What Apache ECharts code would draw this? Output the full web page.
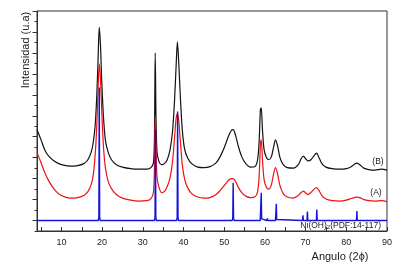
<!DOCTYPE html>
<html>
<head>
<meta charset="utf-8">
<script src="https://cdn.jsdelivr.net/npm/echarts@6/dist/echarts.min.js"></script>
<style>
  html, body { margin: 0; padding: 0; background: #fff; }
  #xrdChart { width: 397px; height: 278px; }
</style>
</head>
<body>
<div id="xrdChart"></div>
<script>
// muestra (B), [2theta, intensidad]
const curveB = [
  [4, 8.67], [5, 7.7], [6, 6.67], [7, 6.1], [8.5, 5.6], [10, 5.33], [12, 5.19], [14, 5.24],
  [15.5, 5.43], [16.5, 5.8], [17.3, 6.5], [17.8, 7.4], [18.3, 9.1], [18.7, 12], [19, 15.3],
  [19.3, 18.45], [19.6, 16.7], [19.9, 13.4], [20.3, 10.1], [20.8, 7.7], [21.5, 6.5], [22.3, 5.8],
  [23.5, 5.33], [25, 5.1], [27, 4.95], [29, 4.9], [31, 4.9], [32, 5.05], [32.6, 5.5], [32.85, 7.7],
  [33.05, 16], [33.25, 9.6], [33.5, 6.5], [34, 5.6], [34.6, 5.33], [35.3, 5.43], [36, 5.8],
  [36.7, 6.76], [37.3, 8.5], [37.8, 11.5], [38.2, 14.9], [38.5, 17.05], [38.8, 15.3], [39.2, 12],
  [39.7, 8.67], [40.3, 6.76], [41, 6], [42, 5.43], [43.5, 5.1], [45, 5.05], [46.5, 5.14], [48, 5.5],
  [49, 6.1], [50, 6.95], [51, 8], [51.7, 8.57], [52.2, 8.67], [52.8, 8.1], [53.5, 7.05], [54.3, 6.1],
  [55.3, 5.43], [56.5, 5.1], [57.5, 5.14], [58.2, 5.8], [58.6, 7.7], [58.9, 10.6], [59.1, 10.76],
  [59.4, 8.67], [59.8, 6.76], [60.4, 6], [61, 5.8], [61.6, 6.1], [62.1, 6.95], [62.6, 7.7],
  [63.1, 7.14], [63.7, 6], [64.5, 5.33], [65.5, 5.05], [67, 5], [68.2, 5.33], [68.9, 5.9],
  [69.5, 6.14], [70, 5.9], [70.6, 5.7], [71.3, 5.8], [72.1, 6.19], [72.7, 6.43], [73.3, 6],
  [74, 5.43], [75, 5.1], [76.5, 4.95], [78.5, 4.9], [80, 4.95], [81.2, 5.14], [82, 5.38],
  [82.6, 5.48], [83.3, 5.33], [84.3, 5], [85.5, 4.86], [87, 4.81], [88.7, 4.9], [90, 4.81]
];

// muestra (A)
const curveA = [
  [4, 6.48], [5, 5.52], [6, 4.48], [7, 3.71], [8.5, 2.86], [10, 2.38], [12, 2.14], [14, 2.19],
  [15.5, 2.38], [16.5, 2.76], [17.3, 3.43], [17.8, 4.29], [18.3, 6.29], [18.7, 9.14], [19, 12.48],
  [19.3, 14.95], [19.6, 13.43], [19.9, 10.57], [20.3, 7.24], [20.8, 5.05], [21.5, 3.71], [22.3, 3.05],
  [23.5, 2.48], [25, 2.14], [27, 1.95], [29, 1.86], [31, 1.9], [32, 2.1], [32.6, 2.67], [32.85, 4.86],
  [33.05, 9.9], [33.25, 6.76], [33.5, 4.1], [34, 3.14], [34.6, 2.67], [35.3, 2.76], [36, 3.24],
  [36.7, 4.1], [37.3, 5.62], [37.8, 7.9], [38.2, 9.8], [38.5, 10.19], [38.8, 9.62], [39.2, 7.71],
  [39.7, 5.33], [40.3, 3.9], [41, 3.14], [42, 2.57], [43.5, 2.24], [45, 2.14], [46.5, 2.19], [48, 2.48],
  [49, 2.86], [50, 3.33], [51, 3.81], [51.7, 4], [52.2, 4], [52.8, 3.71], [53.5, 3.14], [54.3, 2.67],
  [55.3, 2.33], [56.5, 2.19], [57.5, 2.24], [58.2, 2.76], [58.6, 4.38], [58.9, 7.24], [59.1, 7.71],
  [59.4, 5.81], [59.8, 3.9], [60.4, 3.14], [61, 3], [61.6, 3.43], [62.1, 4.38], [62.6, 5.05],
  [63.1, 4.48], [63.7, 3.33], [64.5, 2.57], [65.5, 2.24], [67, 2.14], [68.2, 2.38], [68.9, 2.67],
  [69.5, 2.81], [70, 2.62], [70.6, 2.48], [71.3, 2.67], [72.1, 3], [72.7, 3.14], [73.3, 2.86],
  [74, 2.38], [75, 2.05], [76.5, 1.9], [78.5, 1.86], [80, 1.95], [81.2, 2.1], [82, 2.19],
  [82.6, 2.24], [83.3, 2.19], [84.3, 2], [85.5, 1.9], [87, 1.86], [88.7, 1.9], [90, 1.81]
];

// patron Ni(OH)2 PDF 14-117
const refPattern = [
  [4, 0], [19.05, 0], [19.2, 0.3], [19.3, 12.7], [19.4, 0.3], [19.55, 0],
  [32.85, 0], [33.0, 0.3], [33.1, 8.7], [33.2, 0.3], [33.35, 0],
  [38.3, 0], [38.45, 0.3], [38.55, 10.4], [38.65, 0.3], [38.8, 0],
  [51.95, 0], [52.1, 0.2], [52.2, 3.6], [52.3, 0.2], [52.45, 0],
  [58.85, 0], [59.0, 0.15], [59.1, 2.65], [59.2, 0.15], [59.35, 0],
  [60.5, 0], [60.6, 0.2], [60.7, 0],
  [62.6, 0], [62.7, 0.1], [62.8, 1.6], [62.9, 0.1], [63.05, 0],
  [69.25, 0], [69.35, 0.5], [69.45, 0],
  [70.35, 0], [70.45, 0.85], [70.55, 0],
  [72.65, 0], [72.75, 1.05], [72.85, 0],
  [82.5, 0], [82.6, 0.9], [82.7, 0], [90, 0]
];

const xTicks = [5, 10, 15, 20, 25, 30, 35, 40, 45, 50, 55, 60, 65, 70, 75, 80, 85, 90];
const xLabels = [10, 20, 30, 40, 50, 60, 70, 80, 90];
const yMajorTicks = [0, 2, 4, 6, 8, 10, 12, 14, 16, 18, 20];

const font = "Liberation Sans, Arial, sans-serif";
const axisColor = "#333";

const chart = echarts.init(document.getElementById("xrdChart"));

const lineSeries = (data, color, width) => ({
  type: "line",
  data: data,
  showSymbol: false,
  symbol: "none",
  smooth: 0.3,
  animation: false,
  lineStyle: { color: color, width: width },
});

chart.setOption({
  animation: false,
  grid: {
    left: 37,
    right: 10,
    top: 11,
    bottom: 47,
    show: true,
    borderColor: axisColor,
    borderWidth: 1,
  },
  xAxis: {
    type: "value",
    min: 4,
    max: 90,
    splitLine: { show: false },
    axisLine: { onZero: false, lineStyle: { color: axisColor } },
    axisTick: {
      inside: true,
      length: 4,
      customValues: xTicks,
      lineStyle: { color: axisColor },
    },
    axisLabel: {
      customValues: xLabels,
      fontSize: 9,
      fontFamily: font,
      color: "#222",
      margin: 7,
    },
  },
  yAxis: [
    {
      type: "value",
      min: -1,
      max: 20,
      interval: 1,
      splitLine: { show: false },
      axisLine: { lineStyle: { color: axisColor } },
      axisTick: { length: 2.5, lineStyle: { color: axisColor } },
      axisLabel: { show: false },
    },
    {
      type: "value",
      position: "left",
      min: -1,
      max: 20,
      splitLine: { show: false },
      axisLine: { show: false },
      axisTick: { length: 4.5, customValues: yMajorTicks, lineStyle: { color: axisColor } },
      axisLabel: { show: false },
    },
  ],
  graphic: [
    {
      type: "text",
      x: 26,
      y: 50,
      rotation: Math.PI / 2,
      style: {
        text: "Intensidad (u.a)",
        font: "11px " + font,
        fill: "#222",
        align: "center",
        verticalAlign: "middle",
      },
    },
    {
      type: "text",
      x: 340,
      y: 257,
      style: {
        text: "Angulo (2\u03d5)",
        font: "11px " + font,
        fill: "#222",
        align: "center",
        verticalAlign: "middle",
      },
    },
    {
      type: "text",
      x: 378,
      y: 162,
      style: { text: "(B)", font: "8.5px " + font, fill: "#222", align: "center", verticalAlign: "middle" },
    },
    {
      type: "text",
      x: 376,
      y: 193,
      style: { text: "(A)", font: "8.5px " + font, fill: "#222", align: "center", verticalAlign: "middle" },
    },
    {
      type: "text",
      x: 381,
      y: 226,
      style: {
        text: "Ni(OH){sub|2}(PDF:14-117)",
        font: "8.5px " + font,
        fill: "#222",
        align: "right",
        verticalAlign: "middle",
        rich: {
          sub: { fontSize: 6, fontFamily: font, fill: "#222", verticalAlign: "bottom", padding: [3, 0, 0, 0] },
        },
      },
    },
  ],
  series: [
    lineSeries(curveB, "#111111", 1.2),
    lineSeries(curveA, "#ee1111", 1.2),
    Object.assign(lineSeries(refPattern, "#1414d8", 1.4), { smooth: false }),
  ],
});

window.addEventListener("resize", () => {
  chart.resize();
});
</script>
</body>
</html>
